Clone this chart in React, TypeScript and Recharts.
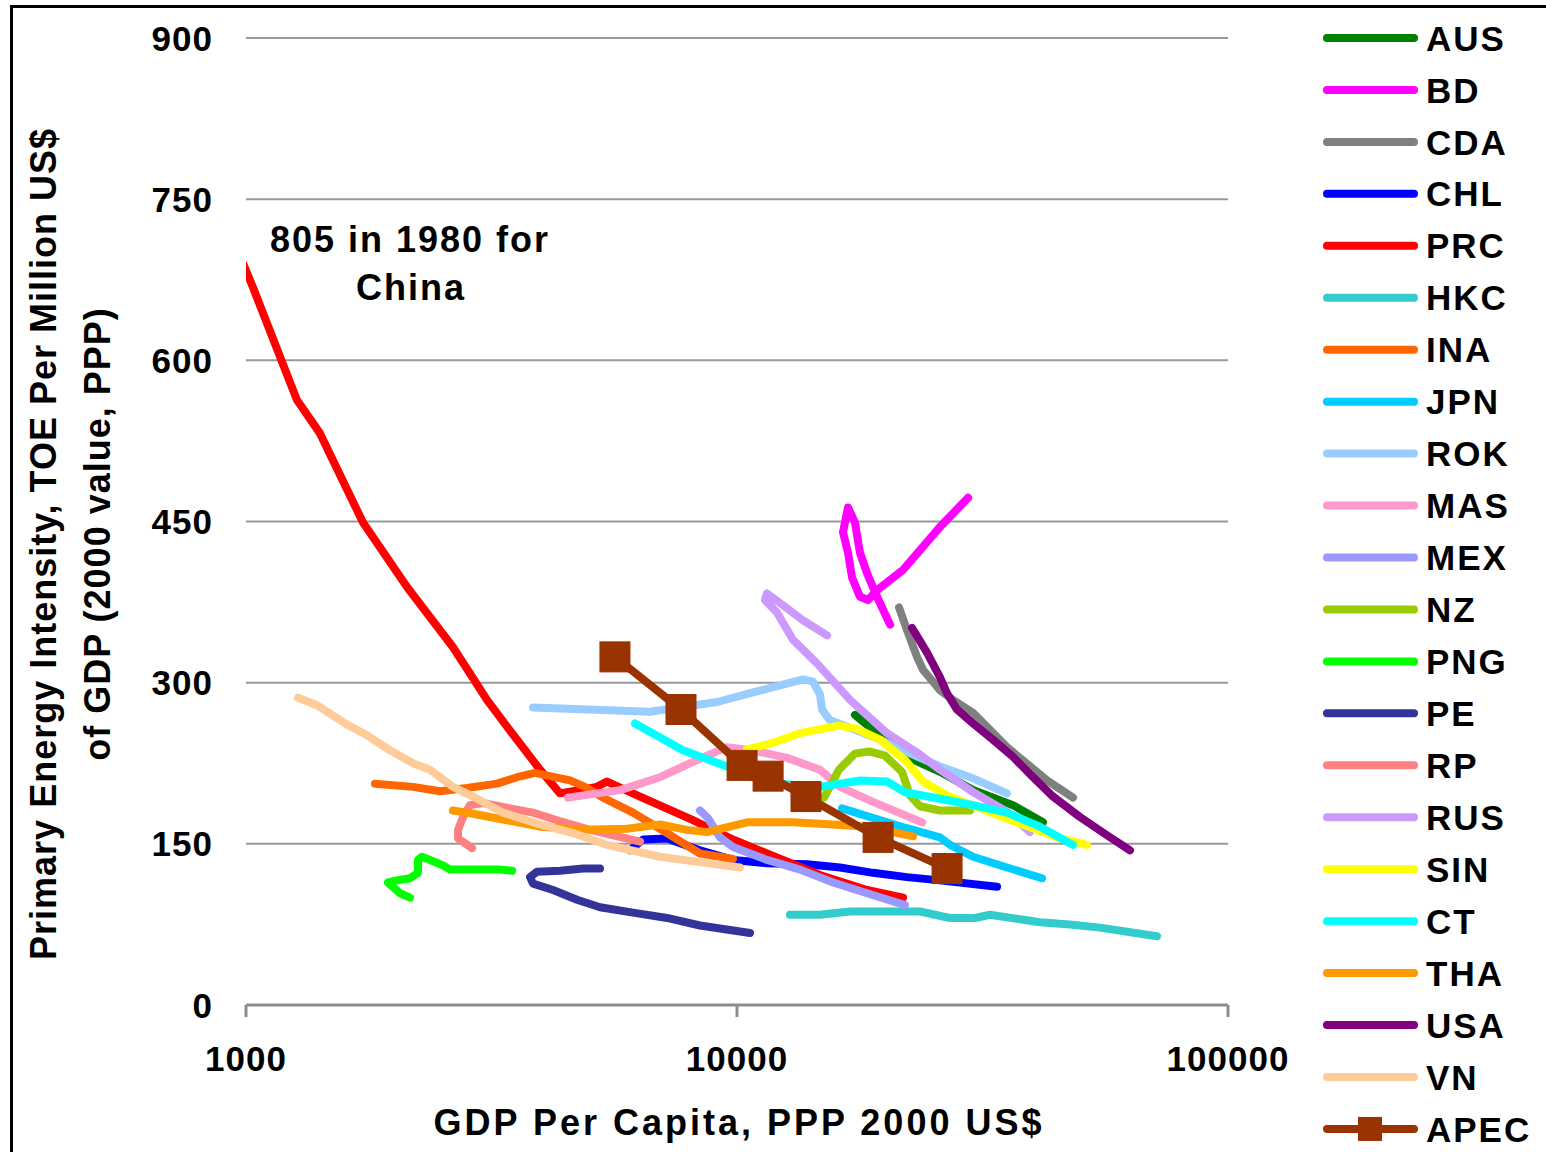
import React from 'react';
import { LineChart, Line, XAxis, YAxis, CartesianGrid } from 'recharts';

type P = [number, number];

// [GDP per capita (PPP 2000 US$), TOE per million US$]
const AUS: P[] = [[17390,270],[19280,253],[22190,231],[25910,217],[30250,200],[36480,186],[41990,170]];
const BD: P[] = [[29550,472],[25910,445],[21790,405],[19280,386],[18490,377],[17800,380],[17150,398],[16830,421],[16440,440],[16830,463],[17390,449],[17800,421],[18400,402],[19280,380],[20500,354]];
const CDA: P[] = [[21380,370],[22190,349],[23260,324],[23920,312],[25910,293],[27540,284],[30250,272],[35470,240],[42800,209],[48350,193]];
const CHL: P[] = [[6055,144],[6436,154],[7201,155],[8406,144],[9814,135],[11510,132],[13890,131],[16210,128],[18920,123],[22190,119],[25910,116],[33850,110]];
const PRC: P[] = [[776,805],[928,719],[1033,668],[1270,563],[1415,532],[1731,449],[2128,389],[2640,333],[3096,284],[3401,259],[3970,219],[4360,197],[5185,203],[5436,208],[6344,194],[8136,172],[9814,154],[11512,141],[14757,121],[18400,107],[21790,100]];
const HKC: P[] = [[12820,84],[14760,84],[16990,87],[23590,87],[27150,81],[30530,81],[32750,84],[41400,77],[47670,75],[54870,72],[71680,64]];
const INA: P[] = [[1831,206],[2188,203],[2484,199],[2819,202],[3245,206],[3564,212],[3879,216],[4160,213],[4570,209],[4902,203],[5386,192],[6141,179],[7201,160],[8406,141],[9814,136]];
const JPN: P[] = [[16360,183],[18660,175],[21990,165],[25910,156],[27150,149],[30250,138],[35470,128],[41800,118]];
const ROK: P[] = [[3842,277],[6648,273],[9107,282],[10780,291],[13630,303],[14280,301],[14760,289],[14900,275],[15470,265],[16990,258],[19550,247],[22830,233],[25910,222],[30250,211],[35470,197]];
const MAS: P[] = [[4527,193],[5776,200],[6969,212],[8287,228],[9541,240],[10780,237],[12640,230],[14760,219],[16210,203],[18920,189],[23820,170]];
const MEX: P[] = [[8406,181],[8729,174],[9234,156],[9814,147],[11510,135],[13440,126],[15690,114],[18400,104],[21990,93]];
const NZ: P[] = [[15040,193],[16130,219],[17390,234],[18570,236],[20020,232],[21680,217],[22510,195],[23590,185],[25910,181],[29820,181]];
const PNG: P[] = [[2158,100],[2059,104],[1946,114],[2030,116],[2158,118],[2240,123],[2240,135],[2283,138],[2370,135],[2519,130],[2603,126],[3291,126],[3482,125]];
const PE: P[] = [[5260,127],[4858,127],[4360,125],[3914,124],[3788,119],[3842,113],[4220,107],[4722,98],[5260,91],[6141,86],[7201,81],[8406,74],[10629,67]];
const RP: P[] = [[2886,146],[2703,155],[2703,163],[2767,175],[2859,186],[3039,188],[3449,183],[3842,179],[4299,172],[5018,163],[6344,152]];
const RUS: P[] = [[15260,344],[13630,358],[12240,374],[11510,383],[11400,377],[12070,365],[13000,340],[14550,318],[16990,284],[20210,253],[23260,235],[25910,219],[30530,197],[35470,180],[39500,161]];
const SIN: P[] = [[10480,238],[11840,244],[13440,253],[16130,260],[17550,257],[19550,247],[21990,228],[23920,208],[26780,195],[31260,183],[37710,169],[45480,155],[51610,149]];
const CT: P[] = [[6198,262],[7762,237],[9541,222],[11140,209],[12820,205],[14760,203],[17800,209],[20210,208],[21990,198],[25910,192],[30250,186],[35470,179],[41400,166],[48350,149]];
const THA: P[] = [[2640,181],[2900,178],[3401,172],[3970,166],[4858,163],[5970,164],[6969,168],[7909,163],[8689,161],[10480,170],[13000,170],[15690,168],[18400,166],[22830,157]];
const USA: P[] = [[22720,351],[24380,328],[25910,305],[26780,290],[28060,275],[30250,262],[33210,247],[36480,231],[40080,212],[44010,194],[49940,175],[56700,158],[63160,144]];
const VN: P[] = [[1276,286],[1395,279],[1606,261],[1764,251],[1965,237],[2188,225],[2370,219],[2640,203],[2900,194],[3337,179],[3970,168],[4634,160],[5436,149],[6969,138],[8406,133],[10140,128]];
const APEC: P[] = [[5642,324],[7690,275],[10240,223],[11570,213],[13820,194],[19380,156],[26780,127]];

const X_TICKS = [1000, 10000, 100000];
const Y_TICKS = [0, 150, 300, 450, 600, 750, 900];

const SERIES: { name: string; color: string; data: P[]; marker?: boolean }[] = [
  { name: 'AUS', color: '#008000', data: AUS },
  { name: 'BD', color: '#FF00FF', data: BD },
  { name: 'CDA', color: '#808080', data: CDA },
  { name: 'CHL', color: '#0000FF', data: CHL },
  { name: 'PRC', color: '#FF0000', data: PRC },
  { name: 'HKC', color: '#33CCCC', data: HKC },
  { name: 'INA', color: '#FF6600', data: INA },
  { name: 'JPN', color: '#00CCFF', data: JPN },
  { name: 'ROK', color: '#99CCFF', data: ROK },
  { name: 'MAS', color: '#FF99CC', data: MAS },
  { name: 'MEX', color: '#9999FF', data: MEX },
  { name: 'NZ', color: '#99CC00', data: NZ },
  { name: 'PNG', color: '#00FF00', data: PNG },
  { name: 'PE', color: '#333399', data: PE },
  { name: 'RP', color: '#FF8080', data: RP },
  { name: 'RUS', color: '#CC99FF', data: RUS },
  { name: 'SIN', color: '#FFFF00', data: SIN },
  { name: 'CT', color: '#00FFFF', data: CT },
  { name: 'THA', color: '#FF9900', data: THA },
  { name: 'USA', color: '#800080', data: USA },
  { name: 'VN', color: '#FFCC99', data: VN },
  { name: 'APEC', color: '#993300', data: APEC, marker: true },
];

const FONT = '"Liberation Sans", Arial, Helvetica, sans-serif';
const W = 1546;
const H = 1152;

const toPts = (a: P[]) => a.map(([x, y]) => ({ x, y }));

const YTick = (p: any) => (
  <text x={p.x} y={p.y} dy="0.36em" textAnchor="end" fontFamily={FONT} fontWeight="bold" fontSize={35} letterSpacing={1} fill="#000">
    {p.payload.value}
  </text>
);
const XTick = (p: any) => (
  <text x={p.x} y={p.y} dy="0.71em" textAnchor="middle" fontFamily={FONT} fontWeight="bold" fontSize={35} letterSpacing={1} fill="#000">
    {p.payload.value}
  </text>
);

const Square = (color: string) => (p: any) => {
  if (p.cx == null || p.cy == null) return <g key={p.index} />;
  return <rect key={p.index} x={p.cx - 15} y={p.cy - 15} width={30} height={30} fill={color} stroke={color} strokeWidth={1} />;
};

export default function App() {
  const legendTop = 38;
  const legendStep = 51.95;
  return (
    <div style={{ position: 'absolute', left: 0, top: 0, width: W, height: H, overflow: 'hidden', background: '#fff' }}>
      <div style={{ position: 'absolute', left: 10, top: 5, width: 1700, height: 1400, borderLeft: '3px solid #000', borderTop: '3px solid #000' }} />
      <div style={{ position: 'absolute', left: 0, top: 0 }}>
        <LineChart width={W} height={H} margin={{ top: 38, right: W - 1228, bottom: 47, left: 0 }}>
          <CartesianGrid horizontal vertical={false} stroke="#999999" strokeWidth={2} />
          <XAxis
            dataKey="x"
            type="number"
            scale="log"
            domain={[1000, 100000]}
            allowDataOverflow
            ticks={X_TICKS}
            height={100}
            tickSize={12}
            tickMargin={29}
            tick={<XTick />}
            axisLine={{ stroke: '#8c8c8c', strokeWidth: 3 }}
            tickLine={{ stroke: '#8c8c8c', strokeWidth: 3 }}
          />
          <YAxis
            type="number"
            domain={[0, 900]}
            allowDataOverflow
            ticks={Y_TICKS}
            width={246}
            tickSize={0}
            tickMargin={33}
            axisLine={false}
            tickLine={false}
            tick={<YTick />}
          />
          {SERIES.map((s) => (
            <Line
              key={s.name}
              name={s.name}
              data={toPts(s.data)}
              dataKey="y"
              type="linear"
              stroke={s.color}
              strokeWidth={8}
              strokeLinecap="round"
              strokeLinejoin="round"
              dot={s.marker ? Square(s.color) : false}
              activeDot={false}
              isAnimationActive={false}
            />
          ))}
        </LineChart>
      </div>
      <svg width={W} height={H} style={{ position: 'absolute', left: 0, top: 0, pointerEvents: 'none' }}>
        <g fontFamily={FONT} fontWeight="bold" fontSize={36} fill="#000">
          <text transform="translate(43,544) rotate(-90)" textAnchor="middle" dy="0.36em" letterSpacing={1}>
            Primary Energy Intensity, TOE Per Million US$
          </text>
          <text transform="translate(97,534) rotate(-90)" textAnchor="middle" dy="0.36em" letterSpacing={1}>
            of GDP (2000 value, PPP)
          </text>
          <text x={739} y={1135} textAnchor="middle" letterSpacing={3}>
            GDP Per Capita, PPP 2000 US$
          </text>
          <text x={410} y={252} textAnchor="middle" letterSpacing={2}>
            805 in 1980 for
          </text>
          <text x={411} y={300} textAnchor="middle" letterSpacing={2}>
            China
          </text>
        </g>
        {SERIES.map((s, i) => {
          const y = legendTop + legendStep * i;
          return (
            <g key={s.name}>
              <line x1={1327} x2={1414} y1={y} y2={y} stroke={s.color} strokeWidth={8} strokeLinecap="round" />
              {s.marker && <rect x={1358} y={y - 12} width={24} height={24} fill={s.color} />}
              <text x={1426} y={y} dy="0.36em" fontFamily={FONT} fontWeight="bold" fontSize={35} letterSpacing={2} fill="#000">
                {s.name}
              </text>
            </g>
          );
        })}
      </svg>
    </div>
  );
}
